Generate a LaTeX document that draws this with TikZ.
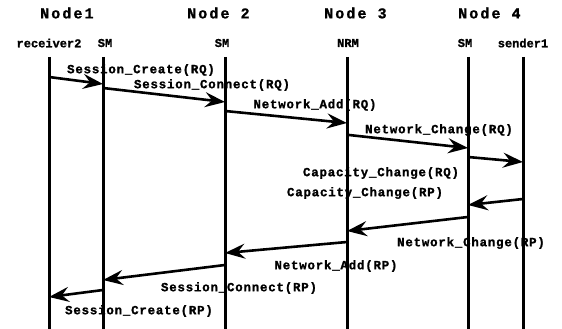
\documentclass[tikz,border=0pt]{standalone}
\usepackage{fontspec}
\usetikzlibrary{arrows.meta}
\newfontfamily\headfont[LetterSpace=14,BoldFeatures={FakeBold=1}]{Liberation Mono}
\newfontfamily\rolefont[BoldFeatures={FakeBold=1.2}]{Liberation Mono}
\newfontfamily\msgfont[LetterSpace=6,BoldFeatures={FakeBold=1.2}]{Liberation Mono}
\begin{document}
\begin{tikzpicture}[x=1pt,y=-1pt,
  head/.style={font=\headfont\fontsize{15}{16}\selectfont\bfseries, anchor=west, inner sep=0pt},
  role/.style={font=\rolefont\fontsize{12}{13}\selectfont\bfseries, inner sep=0pt},
  msg/.style={font=\msgfont\fontsize{12.5}{14}\selectfont\bfseries, inner sep=0pt},
  life/.style={line width=3pt},
  call/.style={line width=2.6pt, -{Stealth[length=20pt,width=15pt,inset=7pt]}}]
\useasboundingbox[fill=white] (0,0) rectangle (562,329);

% node headers
\node[head] (n1) at (40,13) {Node1};
\node[head] (n2) at (187,13) {Node 2};
\node[head] (n3) at (324,13) {Node 3};
\node[head] (n4) at (458,13) {Node 4};

% lifeline roles
\node[role] (rcv) at (49,43) {receiver2};
\node[role] (sma) at (105,43) {SM};
\node[role] (smb) at (222,43) {SM};
\node[role] (nrm) at (348,43) {NRM};
\node[role] (smc) at (465,43) {SM};
\node[role] (snd) at (523,43) {sender1};

% message labels
\node[msg] (l1) at (141,70) {Session\_Create(RQ)};
\node[msg] (l2) at (212,85) {Session\_Connect(RQ)};
\node[msg] (l3) at (315,105) {Network\_Add(RQ)};
\node[msg] (l4) at (439,130) {Network\_Change(RQ)};
\node[msg] (l5) at (381,173) {Capacity\_Change(RQ)};
\node[msg] (l6) at (365,193) {Capacity\_Change(RP)};
\node[msg] (l7) at (471,243) {Network\_Change(RP)};
\node[msg] (l8) at (336,266) {Network\_Add(RP)};
\node[msg] (l9) at (239,288) {Session\_Connect(RP)};
\node[msg] (l10) at (139,311) {Session\_Create(RP)};

% lifelines
\foreach \x/\n in {49/rcv,103/sma,225/smb,347/nrm,468/smc,523/snd}{
  \coordinate (\n top) at (\x,57);
  \coordinate (\n bot) at (\x,329);
  \draw[life] (\n top) -- (\n bot);
}

% message end points on the lifelines
\coordinate (a1) at (49,77);   \coordinate (b1) at (103,84);
\coordinate (a2) at (103,88);  \coordinate (b2) at (225,102);
\coordinate (a3) at (225,111); \coordinate (b3) at (347,123);
\coordinate (a4) at (349,135); \coordinate (b4) at (468,148);
\coordinate (a5) at (468,157); \coordinate (b5) at (523,162);
\coordinate (a6) at (523,199); \coordinate (b6) at (468,205);
\coordinate (a7) at (468,217); \coordinate (b7) at (347,231);
\coordinate (a8) at (347,242); \coordinate (b8) at (225,253);
\coordinate (a9) at (225,265); \coordinate (b9) at (103,280);
\coordinate (a10) at (103,290); \coordinate (b10) at (49,297);

\foreach \i in {1,...,10}{
  \draw[call] (a\i) -- (b\i);
}
\end{tikzpicture}
\end{document}
